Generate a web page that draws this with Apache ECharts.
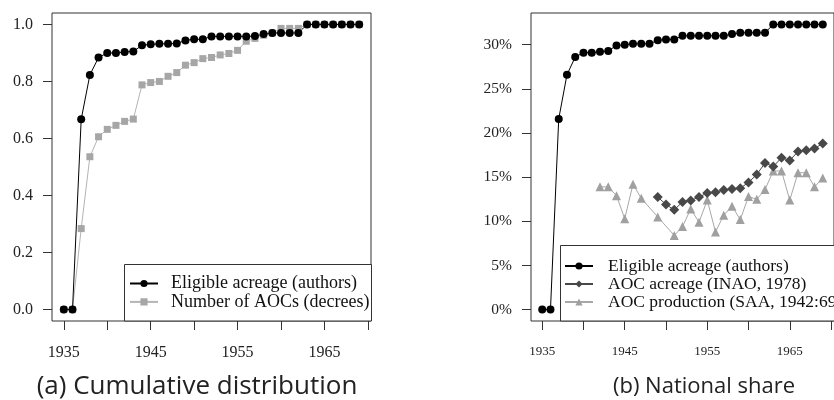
<!DOCTYPE html>
<html>
<head>
<meta charset="utf-8">
<script src="https://cdn.jsdelivr.net/npm/echarts@6/dist/echarts.min.js"></script>
<style>
  html, body { margin: 0; padding: 0; background: #fff; }
  #chart { width: 834px; height: 400px; }
</style>
</head>
<body>
<div id="chart"></div>
<script>
// years 1935..1969
var years = [1935, 1936, 1937, 1938, 1939, 1940, 1941, 1942, 1943, 1944,
             1945, 1946, 1947, 1948, 1949, 1950, 1951, 1952, 1953, 1954,
             1955, 1956, 1957, 1958, 1959, 1960, 1961, 1962, 1963, 1964,
             1965, 1966, 1967, 1968, 1969];

// (a) cumulative distribution
var eligibleCum = [0, 0, 0.667, 0.823, 0.884, 0.900, 0.900, 0.903, 0.905, 0.927,
                   0.930, 0.932, 0.932, 0.933, 0.944, 0.948, 0.948, 0.958, 0.958, 0.958,
                   0.958, 0.958, 0.959, 0.966, 0.970, 0.970, 0.970, 0.970, 1, 1,
                   1, 1, 1, 1, 1];
var aocCount = [0, 0, 0.284, 0.536, 0.606, 0.632, 0.646, 0.660, 0.668, 0.788,
                0.796, 0.800, 0.818, 0.831, 0.857, 0.866, 0.880, 0.884, 0.893, 0.898,
                0.909, 0.941, 0.951, 0.962, 0.970, 0.986, 0.986, 0.986, 1, 1,
                1, 1, 1, 1, 1];

// (b) national share, in %
var eligibleShare = [0, 0, 21.6, 26.6, 28.6, 29.1, 29.1, 29.2, 29.3, 29.9,
                     30.0, 30.1, 30.1, 30.1, 30.5, 30.6, 30.6, 31.0, 31.0, 31.0,
                     31.0, 31.0, 31.0, 31.2, 31.35, 31.35, 31.35, 31.35, 32.3, 32.3,
                     32.3, 32.3, 32.3, 32.3, 32.3];
var acreageYears = [1949, 1950, 1951, 1952, 1953, 1954, 1955, 1956, 1957, 1958,
                    1959, 1960, 1961, 1962, 1963, 1964, 1965, 1966, 1967, 1968, 1969];
var acreageShare = [12.75, 11.9, 11.3, 12.2, 12.35, 12.75, 13.2, 13.3, 13.55, 13.65,
                    13.75, 14.4, 15.3, 16.6, 16.2, 17.2, 16.9, 17.9, 18.05, 18.25, 18.8];
var prodYears = [1942, 1943, 1944, 1945, 1946, 1947, 1949, 1951, 1952, 1953,
                 1954, 1955, 1956, 1957, 1958, 1959, 1960, 1961, 1962, 1963,
                 1964, 1965, 1966, 1967, 1968, 1969];
var prodShare = [13.9, 13.9, 12.9, 10.3, 14.2, 12.6, 10.5, 8.4, 9.4, 11.4,
                 9.9, 12.4, 8.8, 10.7, 11.7, 10.2, 12.8, 12.5, 13.6, 15.7,
                 15.7, 12.4, 15.5, 15.5, 13.9, 14.9];

// ticks and labels
var xTicks = [1935, 1940, 1945, 1950, 1955, 1960, 1965, 1970];
var xLabels = [1935, 1945, 1955, 1965];
var yTicksCum = [0, 0.2, 0.4, 0.6, 0.8, 1.0];
var yTicksShare = [0, 5, 10, 15, 20, 25, 30];

function pairs(xs, ys) {
  return xs.map(function (x, i) { return [x, ys[i]]; });
}

var serif = 'Liberation Serif';
var axisCol = '#333';

function xAxisFor(idx, size) {
  return {
    gridIndex: idx, type: 'value', min: 1933.64, max: 1970.36,
    axisLine: { show: false, onZero: false },
    splitLine: { show: false },
    axisTick: { show: true, customValues: xTicks, length: 9, lineStyle: { color: axisCol } },
    axisLabel: {
      customValues: xLabels, margin: 24, color: '#222',
      fontFamily: serif, fontSize: size,
      formatter: function (v) { return String(v); }
    }
  };
}

function yAxisFor(idx, min, max, ticks, size, fmt) {
  return {
    gridIndex: idx, type: 'value', min: min, max: max,
    axisLine: { show: false, onZero: false },
    splitLine: { show: false },
    axisTick: { show: true, customValues: ticks, length: 9, lineStyle: { color: axisCol } },
    axisLabel: {
      customValues: ticks, margin: 19, color: '#222',
      fontFamily: serif, fontSize: size, formatter: fmt
    }
  };
}

var chart = echarts.init(document.getElementById('chart'));

chart.setOption({
  animation: false,
  backgroundColor: '#fff',
  grid: [
    { left: 52, top: 13, width: 319, height: 308, show: true, borderColor: axisCol, borderWidth: 1 },
    { left: 531, top: 13, width: 314, height: 308, show: true, borderColor: axisCol, borderWidth: 1 }
  ],
  xAxis: [xAxisFor(0, 16), xAxisFor(1, 13)],
  yAxis: [
    yAxisFor(0, -0.04, 1.04, yTicksCum, 16, function (v) { return v.toFixed(1); }),
    yAxisFor(1, -1.29, 33.59, yTicksShare, 15.5, function (v) { return v + '%'; })
  ],
  legend: [
    {
      data: ['Eligible acreage (authors)', 'Number of AOCs (decrees)'],
      orient: 'vertical', left: 129, top: 274.3, padding: 0,
      itemWidth: 28, itemHeight: 9, itemGap: 0, z: 6,
      textStyle: { fontFamily: serif, fontSize: 18, lineHeight: 18.4, color: '#111', padding: [0, 0, 0, 8] }
    },
    {
      data: ['Eligible acreage (authors)', 'AOC acreage (INAO, 1978)', 'AOC production (SAA, 1942:69)'],
      orient: 'vertical', left: 564, top: 257, padding: 0,
      itemWidth: 28, itemHeight: 9, itemGap: 0, z: 6,
      textStyle: { fontFamily: serif, fontSize: 17.5, lineHeight: 17.8, color: '#111', padding: [0, 0, 0, 10] }
    }
  ],
  graphic: [
    { type: 'rect', z: 3, shape: { x: 124.5, y: 264.5, width: 247, height: 56.5 },
      style: { fill: '#fff', stroke: axisCol, lineWidth: 1 } },
    { type: 'rect', z: 3, shape: { x: 560.5, y: 245.5, width: 300, height: 75.5 },
      style: { fill: '#fff', stroke: axisCol, lineWidth: 1 } },
    { type: 'text', x: 197, y: 387, style: { text: '(a) Cumulative distribution', fill: '#222',
      font: '26px "Open Sans"', textAlign: 'center', textVerticalAlign: 'middle' } },
    { type: 'text', x: 704, y: 387, style: { text: '(b) National share', fill: '#222',
      font: '22px "Open Sans"', textAlign: 'center', textVerticalAlign: 'middle' } }
  ],
  series: [
    {
      name: 'Number of AOCs (decrees)', type: 'line', xAxisIndex: 0, yAxisIndex: 0,
      data: pairs(years, aocCount), symbol: 'rect', symbolSize: 7,
      itemStyle: { color: '#a6a6a6' }, lineStyle: { color: '#b4b4b4', width: 1 }
    },
    {
      name: 'Eligible acreage (authors)', type: 'line', xAxisIndex: 0, yAxisIndex: 0,
      data: pairs(years, eligibleCum), symbol: 'circle', symbolSize: 8,
      itemStyle: { color: '#000' }, lineStyle: { color: '#000', width: 1 }
    },
    {
      name: 'AOC production (SAA, 1942:69)', type: 'line', xAxisIndex: 1, yAxisIndex: 1,
      data: pairs(prodYears, prodShare), symbol: 'triangle', symbolSize: 9,
      itemStyle: { color: '#a0a0a0' }, lineStyle: { color: '#a8a8a8', width: 1 }
    },
    {
      name: 'AOC acreage (INAO, 1978)', type: 'line', xAxisIndex: 1, yAxisIndex: 1,
      data: pairs(acreageYears, acreageShare), symbol: 'diamond', symbolSize: 10,
      itemStyle: { color: '#484848' }, lineStyle: { color: '#484848', width: 1 }
    },
    {
      name: 'Eligible acreage (authors)', type: 'line', xAxisIndex: 1, yAxisIndex: 1,
      data: pairs(years, eligibleShare), symbol: 'circle', symbolSize: 8,
      itemStyle: { color: '#000' }, lineStyle: { color: '#000', width: 1 }
    }
  ]
});

window.addEventListener('resize', function () { chart.resize(); });
</script>
</body>
</html>
